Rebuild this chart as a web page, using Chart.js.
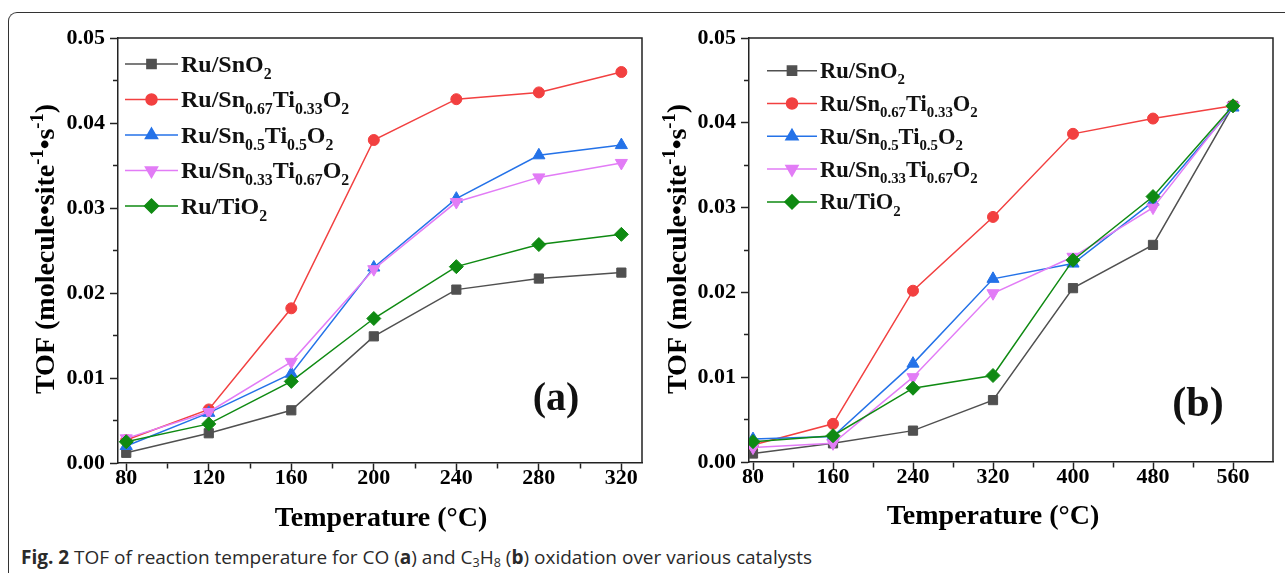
<!DOCTYPE html>
<html>
<head>
<meta charset="utf-8">
<script src="https://cdn.jsdelivr.net/npm/chart.js@4.4.1/dist/chart.umd.min.js"></script>
<style>
  body { margin: 0; background: #fff; width: 1285px; height: 573px; overflow: hidden; position: relative; }
  #frame { position: absolute; left: 8px; top: 12px; width: 1400px; height: 700px;
           border-top: 1.5px solid #333; border-left: 1.5px solid #333; border-top-left-radius: 9px; }
  .box { position: absolute; top: 0; height: 540px; }
  #boxA { left: 0; width: 650px; }
  #boxB { left: 640px; width: 645px; }
  #caption { position: absolute; left: 21px; top: 544px; font-family: "Open Sans", sans-serif;
             font-size: 19px; color: #2a2a2a; white-space: nowrap; }
  #caption sub { font-size: 12.5px; vertical-align: -3px; line-height: 0; }
</style>
</head>
<body>
<div id="frame"></div>
<div class="box" id="boxA"><canvas id="chartA"></canvas></div>
<div class="box" id="boxB"><canvas id="chartB"></canvas></div>
<div id="caption"><b>Fig. 2</b> TOF of reaction temperature for CO (<b>a</b>) and C<sub>3</sub>H<sub>8</sub> (<b>b</b>) oxidation over various catalysts</div>

<script>
// series names (_{ } subscript, ^{ } superscript)
const seriesNames = ['Ru/SnO_{2}', 'Ru/Sn_{0.67}Ti_{0.33}O_{2}', 'Ru/Sn_{0.5}Ti_{0.5}O_{2}',
                     'Ru/Sn_{0.33}Ti_{0.67}O_{2}', 'Ru/TiO_{2}'];
const xTitle = 'Temperature (\u00B0C)';
const yTitle = 'TOF (molecule\u2022site^{-1}\u2022s^{-1})';

// (a) CO oxidation
const tempA = [80, 120, 160, 200, 240, 280, 320];
const a_SnO2 = [0.0012, 0.0035, 0.0062, 0.0149, 0.0204, 0.0217, 0.0224];
const a_Sn67 = [0.0027, 0.0063, 0.0182, 0.0380, 0.0428, 0.0436, 0.0460];
const a_Sn50 = [0.0020, 0.0059, 0.0105, 0.0230, 0.0311, 0.0362, 0.0374];
const a_Sn33 = [0.0029, 0.0060, 0.0119, 0.0228, 0.0307, 0.0336, 0.0353];
const a_TiO2 = [0.0025, 0.0046, 0.0096, 0.0170, 0.0231, 0.0257, 0.0269];

// (b) C3H8 oxidation
const tempB = [80, 160, 240, 320, 400, 480, 560];
const b_SnO2 = [0.0010, 0.0022, 0.0037, 0.0073, 0.0205, 0.0256, 0.0420];
const b_Sn67 = [0.0020, 0.0045, 0.0202, 0.0289, 0.0387, 0.0405, 0.0420];
const b_Sn50 = [0.0027, 0.0030, 0.0116, 0.0216, 0.0234, 0.0307, 0.0418];
const b_Sn33 = [0.0017, 0.0022, 0.0100, 0.0199, 0.0242, 0.0300, 0.0420];
const b_TiO2 = [0.0024, 0.0031, 0.0087, 0.0102, 0.0238, 0.0313, 0.0420];

// ticks
const xTicksA = [80, 100, 120, 140, 160, 180, 200, 220, 240, 260, 280, 300, 320];
const xTicksB = [80, 120, 160, 200, 240, 280, 320, 360, 400, 440, 480, 520, 560];
const yTicks = [0, 0.005, 0.01, 0.015, 0.02, 0.025, 0.03, 0.035, 0.04, 0.045, 0.05];
const yLabels = ['0.00', '0.01', '0.02', '0.03', '0.04', '0.05'];

const SERIF = "'Liberation Serif', 'Times New Roman', serif";
const lineStyle = [
  { color: '#505050', point: 'rect', rot: 0, r: 6.5 },
  { color: '#f24040', point: 'circle', rot: 0, r: 5.5 },
  { color: '#2472e8', point: 'triangle', rot: 0, r: 7 },
  { color: '#e27cf6', point: 'triangle', rot: 180, r: 7 },
  { color: '#0f8a12', point: 'rectRot', rot: 0, r: 7 }
];

// draws text with sub/superscripts, y is the visual middle of the capitals
function drawRich(ctx, text, x, y, size, measureOnly) {
  const parts = text.split(/([_^])\{([^}]*)\}/);
  const base = y + size * 0.33;
  const x0 = x;
  ctx.textBaseline = 'alphabetic';
  ctx.textAlign = 'left';
  for (let i = 0; i < parts.length; i += 3) {
    ctx.font = 'bold ' + size + 'px ' + SERIF;
    if (!measureOnly) ctx.fillText(parts[i], x, base);
    x += ctx.measureText(parts[i]).width;
    if (i + 2 < parts.length) {
      const small = parts[i + 2];
      ctx.font = 'bold ' + (size * 0.66) + 'px ' + SERIF;
      const dy = parts[i + 1] === '_' ? size * 0.28 : -size * 0.4;
      if (!measureOnly) ctx.fillText(small, x, base + dy);
      x += ctx.measureText(small).width;
    }
  }
  return x - x0;
}

const legendPlugin = {
  id: 'subLegend',
  afterDatasetsDraw(chart, args, o) {
    const ctx = chart.ctx;
    ctx.save();
    chart.data.datasets.forEach((ds, i) => {
      const y = o.y + i * o.gap;
      ctx.strokeStyle = ds.borderColor;
      ctx.fillStyle = ds.backgroundColor;
      ctx.lineWidth = 1.5;
      ctx.beginPath();
      ctx.moveTo(o.x, y);
      ctx.lineTo(o.x + o.len, y);
      ctx.stroke();
      Chart.helpers.drawPoint(ctx, { pointStyle: ds.pointStyle, rotation: ds.pointRotation,
        radius: ds.pointRadius, borderWidth: 1 }, o.x + o.len / 2, y);
      ctx.fillStyle = '#111';
      drawRich(ctx, ds.label, o.x + o.len + 3, y, o.size);
    });
    // panel tag
    ctx.fillStyle = '#111';
    ctx.font = 'bold ' + o.tagSize + 'px ' + SERIF;
    ctx.textAlign = 'center';
    ctx.textBaseline = 'alphabetic';
    ctx.fillText(o.tag, o.tagX, o.tagY + o.tagSize * 0.255);
    // axis titles
    ctx.font = 'bold ' + o.xSize + 'px ' + SERIF;
    ctx.fillStyle = '#000';
    ctx.fillText(xTitle, o.xX, o.xY + o.xSize * 0.33);
    ctx.translate(o.yX, o.yY);
    ctx.rotate(-Math.PI / 2);
    const w = drawRich(ctx, yTitle, 0, 0, o.ySize, true);
    drawRich(ctx, yTitle, -w / 2, 0, o.ySize);
    ctx.restore();
  }
};

const boxPlugin = {
  id: 'box',
  afterDraw(chart) {
    const { ctx, chartArea: a } = chart;
    ctx.save();
    ctx.strokeStyle = '#222';
    ctx.lineWidth = 1.5;
    ctx.beginPath();
    ctx.moveTo(a.left, a.top);
    ctx.lineTo(a.right, a.top);
    ctx.lineTo(a.right, a.bottom);
    ctx.stroke();
    ctx.restore();
  }
};

function makeChart(id, temps, series, xr, xTicks, isMajorX, lay, leg) {
  const datasets = series.map((vals, i) => ({
    label: seriesNames[i],
    data: temps.map((t, k) => ({ x: t, y: vals[k] })),
    borderColor: lineStyle[i].color,
    backgroundColor: lineStyle[i].color,
    borderWidth: 1.5,
    pointStyle: lineStyle[i].point,
    pointRotation: lineStyle[i].rot,
    pointRadius: lineStyle[i].r,
    pointBorderWidth: 1,
    order: series.length - i,
    tension: 0
  }));
  const tickGrid = { drawOnChartArea: false, tickLength: 8, tickWidth: 1.5, tickColor: '#222' };
  const tickFont = { family: SERIF, size: 22, weight: 'bold' };
  return new Chart(document.getElementById(id), {
    type: 'line',
    data: { datasets },
    plugins: [legendPlugin, boxPlugin],
    options: {
      responsive: true,
      maintainAspectRatio: false,
      animation: false,
      layout: { padding: { left: 0, right: lay.right, top: 38, bottom: 0 } },
      plugins: { legend: { display: false }, tooltip: { enabled: false }, subLegend: leg },
      scales: {
        x: {
          type: 'linear', min: xr[0], max: xr[1],
          afterBuildTicks: s => { s.ticks = xTicks.map(v => ({ value: v })); },
          afterFit: s => { s.height = lay.xh; },
          border: { color: '#222', width: 1.5 },
          grid: Object.assign({}, tickGrid, {
            tickBorderDash: c => isMajorX(c.tick.value) ? [] : [5, 100]
          }),
          ticks: {
            autoSkip: false, maxRotation: 0, padding: -6, color: '#000', font: tickFont,
            callback: v => isMajorX(v) ? String(v) : ''
          }
        },
        y: {
          min: 0, max: 0.05,
          afterBuildTicks: s => { s.ticks = yTicks.map(v => ({ value: v })); },
          afterFit: s => { s.width = lay.yw; },
          border: { color: '#222', width: 1.5 },
          grid: Object.assign({}, tickGrid, {
            tickBorderDash: c => Math.round(c.tick.value * 1000) % 10 === 0 ? [] : [0, 3, 5, 100]
          }),
          ticks: {
            padding: 5, color: '#000', font: tickFont,
            callback: v => {
              const k = Math.round(v * 1000);
              return k % 10 === 0 ? yLabels[k / 10] : '';
            }
          }
        }
      }
    }
  });
}

makeChart('chartA', tempA, [a_SnO2, a_Sn67, a_Sn50, a_Sn33, a_TiO2], [76, 330], xTicksA,
  v => v % 40 === 0,
  { right: 7, xh: 77, yw: 118 },
  { x: 125, y: 64, gap: 35.5, len: 53, size: 24, tag: '(a)', tagX: 556, tagY: 400, tagSize: 40,
    xSize: 28, xX: 381, xY: 517, ySize: 28, yX: 45, yY: 249 });

makeChart('chartB', tempB, [b_SnO2, b_Sn67, b_Sn50, b_Sn33, b_TiO2], [76, 600], xTicksB,
  v => v % 80 === 0,
  { right: 12, xh: 78, yw: 109 },
  { x: 127, y: 70.7, gap: 32.8, len: 50, size: 22.5, tag: '(b)', tagX: 558, tagY: 405, tagSize: 42,
    xSize: 28, xX: 353, xY: 515, ySize: 28, yX: 37, yY: 249 });
</script>
</body>
</html>
